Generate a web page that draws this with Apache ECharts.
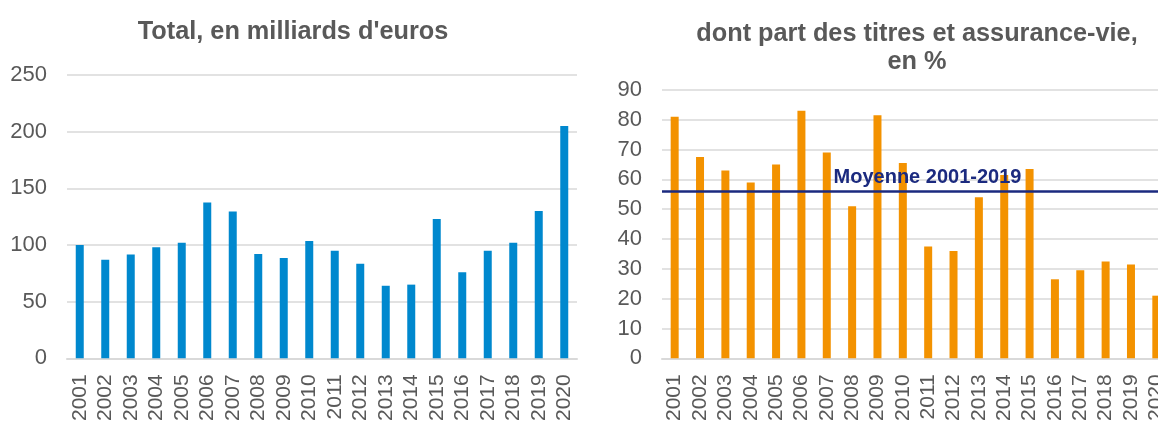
<!DOCTYPE html>
<html>
<head>
<meta charset="utf-8">
<script src="https://cdn.jsdelivr.net/npm/echarts@6/dist/echarts.min.js"></script>
<style>
  html, body { margin: 0; padding: 0; background: #fff; overflow: hidden; }
  #main { width: 1172px; height: 424px; }
</style>
</head>
<body>
<div id="main"></div>
<script>
var years = ['2001','2002','2003','2004','2005','2006','2007','2008','2009','2010',
             '2011','2012','2013','2014','2015','2016','2017','2018','2019','2020'];
// total, en milliards d'euros
var totals = [100, 87, 91.5, 98, 102, 137.5, 129.5, 92, 88.5, 103.5,
              95, 83.5, 64, 65, 123, 76, 95, 102, 130, 205];
// part des titres et assurance-vie, en %
var shares = [81, 67.5, 63, 59, 65, 83, 69, 51, 81.5, 65.5,
              37.5, 36, 54, 61.5, 63.5, 26.5, 29.5, 32.5, 31.5, 21];
var moyenne = 56;
var leftTicks = [0, 250, 50];   // min, max, interval
var rightTicks = [0, 90, 10];

var txt = '#595959';
var grid = '#D9D9D9';
var font = 'Liberation Sans';

// the right panel is cut off at the window edge, so the chart is a bit wider than the window
var myChart = echarts.init(document.getElementById('main'));

function xAx(idx) {
    return {
        type: 'category',
        gridIndex: idx,
        data: years,
        axisTick: { show: false },
        axisLine: { lineStyle: { color: grid, width: 2 } },
        axisLabel: { interval: 0, rotate: 90, margin: 16, fontSize: 21, color: txt, fontFamily: font }
    };
}
function yAx(idx, t) {
    return {
        type: 'value',
        gridIndex: idx,
        min: t[0], max: t[1], interval: t[2],
        axisLine: { show: false },
        axisTick: { show: false },
        splitLine: { lineStyle: { color: grid, width: 1.5 } },
        axisLabel: { margin: 20, fontSize: 22, color: txt, fontFamily: font }
    };
}

option = {
    animation: false,
    title: [
        {
            text: "Total, en milliards d'euros",
            left: 293, top: 20, padding: 0, textAlign: 'center',
            textStyle: { fontSize: 25.3, fontWeight: 'bold', color: txt, fontFamily: font }
        },
        {
            text: 'dont part des titres et assurance-vie,\nen %',
            left: 917, top: 20, padding: 0, textAlign: 'center',
            textStyle: { fontSize: 25.3, fontWeight: 'bold', color: txt, fontFamily: font, lineHeight: 28 }
        }
    ],
    grid: [
        { left: 67, top: 75, width: 510, bottom: 64 },
        { left: 662, top: 90, width: 507, bottom: 64 }
    ],
    xAxis: [xAx(0), xAx(1)],
    yAxis: [yAx(0, leftTicks), yAx(1, rightTicks)],
    series: [
        {
            type: 'bar',
            xAxisIndex: 0, yAxisIndex: 0,
            data: totals,
            barWidth: 8,
            itemStyle: { color: '#0088CE' }
        },
        {
            type: 'bar',
            xAxisIndex: 1, yAxisIndex: 1,
            data: shares,
            barWidth: 8,
            itemStyle: { color: '#F39200' },
            markLine: {
                symbol: 'none',
                silent: true,
                lineStyle: { color: '#1B2A7F', width: 2.5, type: 'solid' },
                label: {
                    position: 'insideMiddleTop',
                    formatter: 'Moyenne 2001-2019',
                    fontSize: 20, fontWeight: 'bold', color: '#1B2A7F', fontFamily: font,
                    distance: 4,
                    offset: [12, 0]
                },
                data: [{ yAxis: moyenne }]
            }
        }
    ]
};
myChart.setOption(option);

window.onresize = function () {
    myChart.resize();
};
</script>
</body>
</html>
